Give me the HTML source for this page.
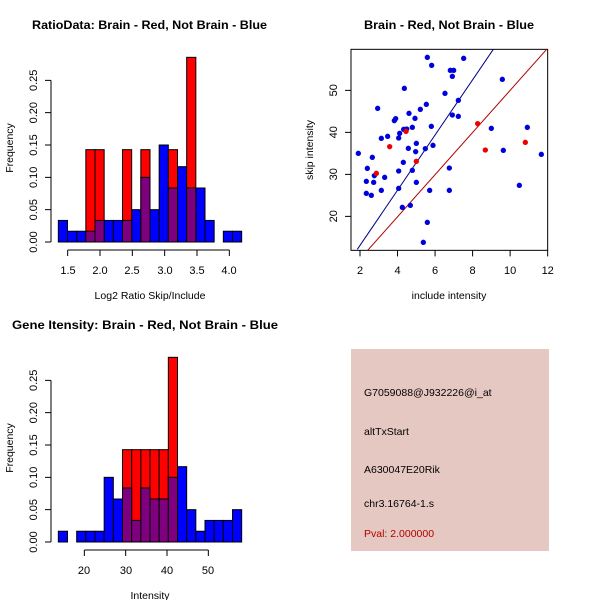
<!DOCTYPE html>
<html><head><meta charset="utf-8"><style>
body{margin:0;background:#fff}
svg{display:block;font-family:"Liberation Sans",sans-serif}
</style></head><body>
<svg width="600" height="600" viewBox="0 0 600 600" xmlns="http://www.w3.org/2000/svg">
<rect width="600" height="600" fill="#fff"/>
<g font-weight="bold" font-size="12" fill="#000">
<text x="32" y="29" textLength="235" lengthAdjust="spacingAndGlyphs">RatioData: Brain - Red, Not Brain - Blue</text>
<text x="364" y="29" textLength="170" lengthAdjust="spacingAndGlyphs">Brain - Red, Not Brain - Blue</text>
<text x="12" y="329" textLength="266" lengthAdjust="spacingAndGlyphs">Gene Itensity: Brain - Red, Not Brain - Blue</text>
</g>

<g transform="translate(0,40) scale(0.33333)" stroke="#000" stroke-width="3">
<g fill="#0000ff">
<rect x="175" y="541.3" width="27.5" height="64.7"/>
<rect x="202.5" y="573.7" width="27.5" height="32.3"/>
<rect x="230" y="573.7" width="27.5" height="32.3"/>
<rect x="285" y="541.3" width="27.5" height="64.7"/>
<rect x="312.5" y="541.3" width="27.5" height="64.7"/>
<rect x="340" y="541.3" width="27.5" height="64.7"/>
<rect x="395" y="509" width="27.5" height="97"/>
<rect x="450" y="509" width="27.5" height="97"/>
<rect x="477.5" y="315" width="27.5" height="291"/>
<rect x="532.5" y="380" width="27.5" height="226"/>
<rect x="587.5" y="444" width="27.5" height="162"/>
<rect x="615" y="541.3" width="27.5" height="64.7"/>
<rect x="670" y="573.7" width="27.5" height="32.3"/>
<rect x="697.5" y="573.7" width="27.5" height="32.3"/>
</g>
<g fill="#ff0000">
<rect x="257.5" y="329" width="27.5" height="277"/>
<rect x="285" y="329" width="27.5" height="277"/>
<rect x="367.5" y="329" width="27.5" height="277"/>
<rect x="422.5" y="329" width="27.5" height="277"/>
<rect x="505" y="329" width="27.5" height="277"/>
<rect x="560" y="52" width="27.5" height="554"/>
</g>
<g fill="#7f007f">
<rect x="257.5" y="573.7" width="27.5" height="32.3"/>
<rect x="285" y="541.3" width="27.5" height="64.7"/>
<rect x="367.5" y="541.3" width="27.5" height="64.7"/>
<rect x="422.5" y="412" width="27.5" height="194"/>
<rect x="505" y="444" width="27.5" height="162"/>
<rect x="560" y="444" width="27.5" height="162"/>
</g>
<path d="M153 606V121M153 606h-18M153 509h-18M153 412h-18M153 315h-18M153 218h-18M153 121h-18" fill="none"/>
<path d="M203 630H688M203 630v18M300 630v18M397 630v18M494 630v18M591 630v18M688 630v18" fill="none"/>
</g>
<g font-size="11" fill="#000">
<text x="68" y="274" text-anchor="middle">1.5</text>
<text x="100" y="274" text-anchor="middle">2.0</text>
<text x="132" y="274" text-anchor="middle">2.5</text>
<text x="165" y="274" text-anchor="middle">3.0</text>
<text x="197" y="274" text-anchor="middle">3.5</text>
<text x="229" y="274" text-anchor="middle">4.0</text>
<g text-anchor="middle">
<text transform="translate(37,242) rotate(-90)">0.00</text>
<text transform="translate(37,209.7) rotate(-90)">0.05</text>
<text transform="translate(37,177.3) rotate(-90)">0.10</text>
<text transform="translate(37,145) rotate(-90)">0.15</text>
<text transform="translate(37,112.7) rotate(-90)">0.20</text>
<text transform="translate(37,80.3) rotate(-90)">0.25</text>
<text transform="translate(13,148) rotate(-90)" font-size="10.5">Frequency</text>
</g>
<text x="150" y="299" text-anchor="middle" font-size="10.5">Log2 Ratio Skip/Include</text>
</g>

<g transform="translate(0,340) scale(0.33333)" stroke="#000" stroke-width="3">
<g fill="#0000ff">
<rect x="175" y="573.7" width="27.5" height="32.3"/>
<rect x="230" y="573.7" width="27.5" height="32.3"/>
<rect x="257.5" y="573.7" width="27.5" height="32.3"/>
<rect x="285" y="573.7" width="27.5" height="32.3"/>
<rect x="312.5" y="412" width="27.5" height="194"/>
<rect x="340" y="477" width="27.5" height="129"/>
<rect x="532.5" y="380" width="27.5" height="226"/>
<rect x="560" y="509" width="27.5" height="97"/>
<rect x="587.5" y="573.7" width="27.5" height="32.3"/>
<rect x="615" y="541.3" width="27.5" height="64.7"/>
<rect x="642.5" y="541.3" width="27.5" height="64.7"/>
<rect x="670" y="541.3" width="27.5" height="64.7"/>
<rect x="697.5" y="509" width="27.5" height="97"/>
</g>
<g fill="#ff0000">
<rect x="367.5" y="329" width="27.5" height="277"/>
<rect x="395" y="329" width="27.5" height="277"/>
<rect x="422.5" y="329" width="27.5" height="277"/>
<rect x="450" y="329" width="27.5" height="277"/>
<rect x="477.5" y="329" width="27.5" height="277"/>
<rect x="505" y="52" width="27.5" height="554"/>
</g>
<g fill="#7f007f">
<rect x="367.5" y="444" width="27.5" height="162"/>
<rect x="395" y="541.3" width="27.5" height="64.7"/>
<rect x="422.5" y="444" width="27.5" height="162"/>
<rect x="450" y="477" width="27.5" height="129"/>
<rect x="477.5" y="477" width="27.5" height="129"/>
<rect x="505" y="412" width="27.5" height="194"/>
</g>
<path d="M153 606V121M153 606h-18M153 509h-18M153 412h-18M153 315h-18M153 218h-18M153 121h-18" fill="none"/>
<path d="M253 630H625M253 630v18M377 630v18M501 630v18M625 630v18" fill="none"/>
</g>
<g font-size="11" fill="#000">
<text x="84" y="574" text-anchor="middle">20</text>
<text x="126" y="574" text-anchor="middle">30</text>
<text x="167" y="574" text-anchor="middle">40</text>
<text x="208" y="574" text-anchor="middle">50</text>
<g text-anchor="middle">
<text transform="translate(37,542) rotate(-90)">0.00</text>
<text transform="translate(37,509.7) rotate(-90)">0.05</text>
<text transform="translate(37,477.3) rotate(-90)">0.10</text>
<text transform="translate(37,445) rotate(-90)">0.15</text>
<text transform="translate(37,412.7) rotate(-90)">0.20</text>
<text transform="translate(37,380.3) rotate(-90)">0.25</text>
<text transform="translate(13,448) rotate(-90)" font-size="10.5">Frequency</text>
</g>
<text x="150" y="599" text-anchor="middle" font-size="10.5">Intensity</text>
</g>

<g transform="translate(300,40) scale(0.33333)">
<rect x="153" y="28" width="590" height="603" fill="none" stroke="#000" stroke-width="3"/>
<path d="M180 631v18M292.6 631v18M405.2 631v18M517.8 631v18M630.4 631v18M743 631v18M153 529h-18M153 403h-18M153 277h-18M153 151h-18" stroke="#000" stroke-width="3"/>
<line x1="172" y1="628" x2="580" y2="28" stroke="#00008b" stroke-width="3"/>
<line x1="203" y1="631" x2="740" y2="28" stroke="#b00000" stroke-width="3"/>
<g fill="#0000dd">
<circle cx="175" cy="340" r="8"/><circle cx="233" cy="205" r="8"/><circle cx="244" cy="295" r="8"/><circle cx="263" cy="289" r="8"/><circle cx="283" cy="242" r="8"/><circle cx="287" cy="236" r="8"/><circle cx="296" cy="294" r="8"/><circle cx="299" cy="280" r="8"/><circle cx="311" cy="268" r="8"/><circle cx="320" cy="267" r="8"/><circle cx="337" cy="262" r="8"/><circle cx="313" cy="145" r="8"/><circle cx="382" cy="52" r="8"/><circle cx="395" cy="76" r="8"/><circle cx="451" cy="91" r="8"/><circle cx="461" cy="91" r="8"/><circle cx="457" cy="109" r="8"/><circle cx="491" cy="55" r="8"/><circle cx="435" cy="160" r="8"/><circle cx="475" cy="181" r="8"/><circle cx="327" cy="220" r="8"/><circle cx="361" cy="208" r="8"/><circle cx="345" cy="235" r="8"/><circle cx="379" cy="193" r="8"/><circle cx="394" cy="259" r="8"/><circle cx="376" cy="326" r="8"/><circle cx="325" cy="325" r="8"/><circle cx="349" cy="310" r="8"/><circle cx="347" cy="335" r="8"/><circle cx="399" cy="316" r="8"/><circle cx="337" cy="391" r="8"/><circle cx="310" cy="367" r="8"/><circle cx="296" cy="393" r="8"/><circle cx="217" cy="352" r="8"/><circle cx="202" cy="385" r="8"/><circle cx="223" cy="407" r="8"/><circle cx="199" cy="424" r="8"/><circle cx="221" cy="427" r="8"/><circle cx="254" cy="412" r="8"/><circle cx="244" cy="451" r="8"/><circle cx="199" cy="460" r="8"/><circle cx="214" cy="466" r="8"/><circle cx="296" cy="445" r="8"/><circle cx="307" cy="502" r="8"/><circle cx="331" cy="496" r="8"/><circle cx="349" cy="427" r="8"/><circle cx="389" cy="451" r="8"/><circle cx="382" cy="547" r="8"/><circle cx="370" cy="607" r="8"/><circle cx="448" cy="384" r="8"/><circle cx="448" cy="451" r="8"/><circle cx="457" cy="225" r="8"/><circle cx="475" cy="229" r="8"/><circle cx="607" cy="118" r="8"/><circle cx="574" cy="265" r="8"/><circle cx="682" cy="262" r="8"/><circle cx="610" cy="331" r="8"/><circle cx="724" cy="343" r="8"/><circle cx="658" cy="436" r="8"/>
</g>
<g fill="#ee0000">
<circle cx="229" cy="400" r="8"/><circle cx="269" cy="320" r="8"/><circle cx="318" cy="274" r="8"/><circle cx="349" cy="364" r="8"/><circle cx="533" cy="251" r="8"/><circle cx="556" cy="330" r="8"/><circle cx="676" cy="307" r="8"/>
</g>
</g>
<g font-size="11" fill="#000">
<text x="360" y="274" text-anchor="middle">2</text>
<text x="397.5" y="274" text-anchor="middle">4</text>
<text x="435" y="274" text-anchor="middle">6</text>
<text x="472.6" y="274" text-anchor="middle">8</text>
<text x="510.1" y="274" text-anchor="middle">10</text>
<text x="547.7" y="274" text-anchor="middle">12</text>
<g text-anchor="middle">
<text transform="translate(337,216.3) rotate(-90)">20</text>
<text transform="translate(337,174.3) rotate(-90)">30</text>
<text transform="translate(337,132.3) rotate(-90)">40</text>
<text transform="translate(337,90.3) rotate(-90)">50</text>
<text transform="translate(313,150) rotate(-90)" font-size="10.5">skip intensity</text>
</g>
<text x="449" y="299" text-anchor="middle" font-size="10.5">include intensity</text>
</g>

<rect x="351" y="349" width="198" height="202" fill="#e6c8c2"/>
<g font-size="10.5" fill="#000">
<text x="364" y="396">G7059088@J932226@i_at</text>
<text x="364" y="435">altTxStart</text>
<text x="364" y="473">A630047E20Rik</text>
<text x="364" y="507">chr3.16764-1.s</text>
<text x="364" y="537" fill="#b00000">Pval: 2.000000</text>
</g>
</svg>
</body></html>
